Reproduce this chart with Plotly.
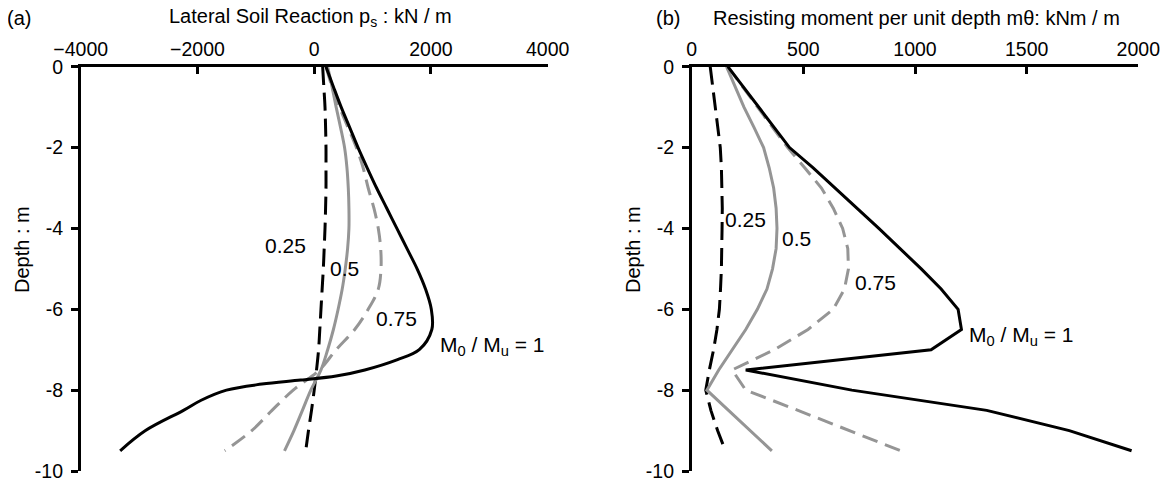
import plotly.graph_objects as go

# ---------------- Panel (a): lateral soil reaction ps (kN/m) ----------------
a_depth_1 = [0, -0.5, -1, -1.5, -2, -2.5, -3, -3.5, -4, -4.5, -5, -5.5, -6, -6.5, -7,
             -7.25, -7.5, -7.65, -7.75, -7.85, -8, -8.25, -8.5, -9, -9.5]
a_ps_1 = [202, 330, 462, 607, 751, 907, 1069, 1243, 1416, 1590, 1763, 1907, 2006, 2015, 1800,
          1416, 867, 376, -231, -896, -1503, -1936, -2240, -2890, -3324]

a_depth = [0, -0.5, -1, -1.5, -2, -2.5, -3, -3.5, -4, -4.5, -5, -5.5, -6, -6.5, -7,
           -7.5, -8, -8.5, -9, -9.5]
a_ps_075 = [202, 306, 433, 578, 722, 838, 925, 1023, 1098, 1139, 1144, 1098, 925, 694, 376,
            90, -360, -723, -1069, -1532]
a_ps_05 = [231, 306, 376, 451, 520, 561, 584, 595, 595, 572, 532, 480, 410, 329, 231,
           116, -58, -202, -347, -509]
a_ps_025 = [145, 165, 185, 195, 202, 202, 202, 195, 185, 171, 156, 136, 116, 96, 75,
            40, 0, -46, -98, -145]

# ---------------- Panel (b): resisting moment per unit depth (kNm/m) --------
b_depth = [0, -0.5, -1, -1.5, -2, -2.5, -3, -3.5, -4, -4.5, -5, -5.5, -6, -6.5, -7,
           -7.5, -8, -8.5, -9, -9.5]
b_m_1 = [162, 231, 302, 370, 438, 544, 643, 740, 838, 933, 1028, 1117, 1193, 1208, 1072,
         242, 717, 1321, 1691, 1970]
b_m_075 = [162, 227, 295, 362, 430, 506, 581, 634, 676, 699, 702, 684, 634, 521, 370,
           181, 242, 476, 702, 936]
b_m_05 = [156, 196, 234, 279, 322, 347, 367, 378, 382, 378, 362, 337, 294, 242, 181,
          121, 68, 166, 264, 359]
b_m_025 = [83, 95, 106, 118, 128, 133, 136, 137, 136, 135, 133, 129, 124, 113, 98,
           79, 63, 86, 116, 151]

a_xticks = [-4000, -2000, 0, 2000, 4000]
b_xticks = [0, 500, 1000, 1500, 2000]
y_ticks = [0, -2, -4, -6, -8, -10]
y_ticktext = ["0", "-2", "-4", "-6", "-8", "-10"]

BLACK = "#000000"
GRAY = "#959595"
FONT = "Liberation Sans, Arial, sans-serif"

# page has an 8px body margin; figure is sized to fit inside the window
OFF = 8
W, H = 1169 - OFF, 483 - OFF

def px(x):
    return (x - OFF) / W

def py(y):
    return 1 - (y - OFF) / H

fig = go.Figure()

def add(x, y, color, dash, shape, xa, ya):
    fig.add_trace(go.Scatter(
        x=x, y=y, mode="lines", xaxis=xa, yaxis=ya, showlegend=False,
        line=dict(color=color, width=3, dash=dash, shape=shape),
        hoverinfo="skip"))

# panel a
add(a_ps_025, a_depth, BLACK, "18px,8px", "spline", "x", "y")
add(a_ps_05, a_depth, GRAY, "solid", "spline", "x", "y")
add(a_ps_075, a_depth, GRAY, "16px,8px", "spline", "x", "y")
add(a_ps_1, a_depth_1, BLACK, "solid", "spline", "x", "y")
# panel b
add(b_m_025, b_depth, BLACK, "18px,8px", "linear", "x2", "y2")
add(b_m_05, b_depth, GRAY, "solid", "linear", "x2", "y2")
add(b_m_075, b_depth, GRAY, "16px,8px", "linear", "x2", "y2")
add(b_m_1, b_depth, BLACK, "solid", "linear", "x2", "y2")

tickfont = dict(family=FONT, size=19.5, color="black")
xcommon = dict(side="top", showline=True, linecolor="black", linewidth=2.5,
               ticks="inside", ticklen=8, tickwidth=2.5, tickcolor="black",
               showgrid=False, zeroline=False, tickfont=tickfont, fixedrange=True,
               automargin=False)
ycommon = dict(range=[-10, 0], showline=True, linecolor="black", linewidth=2.5,
               ticks="outside", ticklen=7, tickwidth=2.5, tickcolor="black",
               showgrid=False, zeroline=False, tickfont=tickfont,
               tickvals=y_ticks, ticktext=y_ticktext, ticklabelstandoff=4, fixedrange=True,
               automargin=False)

y_dom = [py(471), py(66.7)]
fig.update_layout(
    width=W, height=H,
    margin=dict(l=0, r=0, t=0, b=0),
    paper_bgcolor="white", plot_bgcolor="white",
    font=dict(family=FONT, color="black"),
    xaxis=dict(domain=[px(80.7), px(547.7)], range=[-4000, 4000],
               tickvals=a_xticks, anchor="y", **xcommon),
    yaxis=dict(domain=y_dom, anchor="x", **ycommon),
    xaxis2=dict(domain=[px(691.7), px(1138.3)], range=[0, 2000],
                tickvals=b_xticks, anchor="y2", **xcommon),
    yaxis2=dict(domain=y_dom, anchor="x2", **ycommon),
)

ann_font = dict(family=FONT, size=21, color="black")
lab_font = dict(family=FONT, size=20, color="black")

def ann(text, x, y, xref, yref, font, xanchor="center", yanchor="middle", angle=0):
    fig.add_annotation(text=text, x=x, y=y, xref=xref, yref=yref, showarrow=False,
                       font=font, xanchor=xanchor, yanchor=yanchor, textangle=angle)

# curve labels panel a
ann("0.25", -490, -4.43, "x", "y", ann_font)
ann("0.5", 527, -4.98, "x", "y", ann_font)
ann("0.75", 1413, -6.22, "x", "y", ann_font)
ann("M<sub>0</sub> / M<sub>u</sub> = 1", 2125, -6.92, "x", "y", ann_font, xanchor="left")
# curve labels panel b
ann("0.25", 243, -3.77, "x2", "y2", ann_font)
ann("0.5", 470, -4.24, "x2", "y2", ann_font)
ann("0.75", 821, -5.34, "x2", "y2", ann_font)
ann("M<sub>0</sub> / M<sub>u</sub> = 1", 1231, -6.67, "x2", "y2", ann_font, xanchor="left")

# axis titles and panel letters (paper coords)
ann("Lateral Soil Reaction p<sub>s</sub> : kN / m", px(310), py(18), "paper", "paper", lab_font)
ann("Resisting moment per unit depth mθ: kNm / m", px(917), py(18), "paper", "paper", lab_font)
ann("(a)", px(19), py(18), "paper", "paper", lab_font)
ann("(b)", px(668), py(18), "paper", "paper", lab_font)
ann("Depth : m", px(22), py(250), "paper", "paper", lab_font, angle=-90)
ann("Depth : m", px(633), py(250), "paper", "paper", lab_font, angle=-90)

fig.write_html("out.html")
